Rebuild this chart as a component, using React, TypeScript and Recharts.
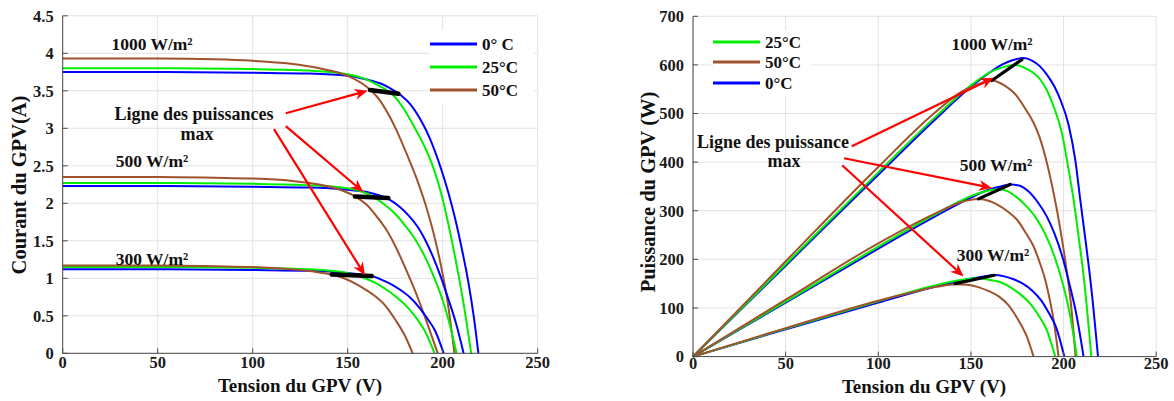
import React from 'react';
import { LineChart, Line, XAxis, YAxis, CartesianGrid, ReferenceLine } from 'recharts';

const BLUE = '#0000ff';
const GREEN = '#00ee00';
const BROWN = '#a0522d';
const AXIS = '#4a4a4a';
const GRID = '#e2e2e2';
const FONT = "'Liberation Serif', 'Times New Roman', serif";

const voltageTicks = [0, 50, 100, 150, 200, 250];
const currentTicks = [0, 0.5, 1, 1.5, 2, 2.5, 3, 3.5, 4, 4.5];
const powerTicks = [0, 100, 200, 300, 400, 500, 600, 700];

type Pt = [number, number];

// I-V curves, [tension V, courant A]
const iv1000_0: Pt[] = [[0, 3.75], [50, 3.75], [100, 3.74], [130, 3.73], [150, 3.7], [160, 3.65], [167, 3.6], [172, 3.54], [178, 3.44], [183, 3.32], [188, 3.13], [193, 2.88], [199, 2.47], [203, 2.14], [206.5, 1.8], [210, 1.4], [213.5, 0.95], [216.3, 0.5], [218.8, 0]];
const iv1000_25: Pt[] = [[0, 3.8], [50, 3.8], [100, 3.79], [130, 3.77], [150, 3.72], [160, 3.65], [167, 3.56], [174, 3.44], [180, 3.24], [185, 3.02], [190, 2.78], [195, 2.48], [199, 2.15], [203, 1.72], [207, 1.22], [211, 0.66], [215, 0]];
const iv1000_50: Pt[] = [[0, 3.93], [50, 3.93], [80, 3.92], [100, 3.9], [120, 3.86], [135, 3.8], [150, 3.7], [158, 3.59], [162, 3.51], [167, 3.37], [172, 3.16], [177, 2.9], [182, 2.6], [187, 2.28], [191, 1.98], [195, 1.62], [199, 1.18], [202.5, 0.7], [206.2, 0]];
const iv500_0: Pt[] = [[0, 2.23], [50, 2.23], [100, 2.22], [130, 2.21], [150, 2.18], [160, 2.15], [166, 2.11], [172, 2.05], [177, 1.96], [182, 1.84], [187, 1.68], [191, 1.5], [195, 1.28], [199, 1.02], [203, 0.72], [207, 0.4], [211, 0]];
const iv500_25: Pt[] = [[0, 2.27], [50, 2.27], [100, 2.26], [130, 2.24], [150, 2.2], [158, 2.15], [164, 2.08], [170, 1.97], [175, 1.86], [180, 1.71], [185, 1.54], [190, 1.32], [195, 1.04], [199, 0.78], [203, 0.45], [207.3, 0]];
const iv500_50: Pt[] = [[0, 2.35], [50, 2.35], [80, 2.34], [100, 2.33], [120, 2.3], [135, 2.25], [146, 2.18], [154, 2.09], [160, 1.98], [166, 1.8], [171, 1.62], [176, 1.38], [181, 1.1], [186, 0.8], [191, 0.46], [197.4, 0]];
const iv300_0: Pt[] = [[0, 1.12], [50, 1.12], [100, 1.11], [130, 1.1], [150, 1.07], [157, 1.05], [162.6, 1.03], [168, 0.98], [173, 0.92], [178, 0.84], [183, 0.74], [188, 0.6], [192, 0.46], [196, 0.3], [200.5, 0]];
const iv300_25: Pt[] = [[0, 1.15], [50, 1.15], [100, 1.14], [130, 1.12], [145, 1.09], [153, 1.05], [160, 0.99], [166, 0.92], [172, 0.82], [177, 0.72], [182, 0.6], [187, 0.44], [191, 0.28], [195.7, 0]];
const iv300_50: Pt[] = [[0, 1.17], [50, 1.17], [80, 1.16], [100, 1.15], [120, 1.12], [132, 1.09], [141.5, 1.05], [148, 1.0], [154, 0.93], [160, 0.84], [165, 0.75], [170, 0.63], [175, 0.45], [180, 0.24], [184.2, 0]];

// P-V curves, [tension V, puissance W]
const pv1000_0: Pt[] = [[0, 0], [50, 187], [100, 374], [130, 485], [150, 555], [160, 584], [167, 601], [172, 609], [178.4, 614], [183, 609], [187, 598], [191, 580], [195, 556], [198.2, 529], [202.7, 477], [206.3, 405], [209, 323], [212, 235], [215, 140], [218.6, 0]];
const pv1000_25: Pt[] = [[0, 0], [50, 190], [100, 379], [130, 490], [150, 558], [160, 584], [167, 595], [173.9, 600], [180, 592], [187.4, 570], [191, 548], [194.6, 515], [199.1, 460], [202.7, 385], [205.4, 323], [208, 250], [211, 160], [215, 0]];
const pv1000_50: Pt[] = [[0, 0], [50, 196], [100, 390], [130, 500], [145, 545], [155, 562], [161.3, 568], [168, 558], [174.8, 536], [179, 512], [183.8, 481], [187, 452], [190.1, 412], [194.6, 337], [198, 268], [201, 195], [204, 108], [206.5, 0]];
const pv500_0: Pt[] = [[0, 0], [50, 111], [100, 222], [130, 287], [150, 327], [160, 344], [166, 350], [171.5, 354], [176, 352], [181, 340], [186, 318], [191, 288], [195, 254], [199, 210], [203, 152], [207, 85], [210.8, 0]];
const pv500_25: Pt[] = [[0, 0], [50, 113], [100, 226], [130, 291], [150, 330], [158, 340], [165, 344], [170, 340], [175, 327], [180, 309], [185, 286], [190, 253], [195, 207], [199, 158], [203, 95], [207.2, 0]];
const pv500_50: Pt[] = [[0, 0], [50, 117], [100, 233], [130, 293], [145, 318], [154, 324], [160, 320], [164, 313], [170, 298], [174.8, 282], [180, 252], [183.8, 227], [187, 195], [190.1, 158], [192.5, 118], [194.6, 76], [197.3, 0]];
const pv300_0: Pt[] = [[0, 0], [50, 56], [100, 111], [130, 143], [150, 160], [157, 165], [163, 168], [168, 165], [173, 159], [178, 150], [183, 136], [188, 115], [192, 90], [196, 60], [200.4, 0]];
const pv300_25: Pt[] = [[0, 0], [50, 57.5], [100, 114], [130, 146], [145, 158], [154, 161], [160, 158], [166, 153], [172, 141], [177, 127], [182, 109], [187, 82], [191, 54], [195.5, 0]];
const pv300_50: Pt[] = [[0, 0], [50, 58.5], [100, 115], [120, 134], [132, 144], [141.5, 149], [148, 148], [154, 143], [160, 134], [165, 124], [170, 107], [175, 79], [180, 43], [183.8, 0]];

// ligne des puissances max (segments noirs)
const mppIV: Pt[][] = [
  [[161.7, 3.51], [176.7, 3.46]],
  [[153.8, 2.09], [171.4, 2.07]],
  [[141.6, 1.05], [162.6, 1.03]],
];
const mppPV: Pt[][] = [
  [[161.3, 568], [177.5, 611]],
  [[154.1, 324.5], [171.2, 354]],
  [[141.5, 150.2], [162.6, 167.3]],
];

// fleches rouges [depart, pointe]
const arrowsIV: Pt[][] = [
  [[117.4, 3.2], [160.5, 3.5]],
  [[117.4, 3.03], [158.2, 2.15]],
  [[111.2, 2.99], [159.1, 1.04]],
];
const arrowsPV: Pt[][] = [
  [[85.7, 432.7], [162.2, 573.5]],
  [[81.5, 408], [161.3, 347]],
  [[80.5, 393.6], [146, 165]],
];

const ivSeries = [
  { id: 'iv1000_0', pts: iv1000_0, color: BLUE }, { id: 'iv1000_25', pts: iv1000_25, color: GREEN }, { id: 'iv1000_50', pts: iv1000_50, color: BROWN },
  { id: 'iv500_0', pts: iv500_0, color: BLUE }, { id: 'iv500_25', pts: iv500_25, color: GREEN }, { id: 'iv500_50', pts: iv500_50, color: BROWN },
  { id: 'iv300_0', pts: iv300_0, color: BLUE }, { id: 'iv300_25', pts: iv300_25, color: GREEN }, { id: 'iv300_50', pts: iv300_50, color: BROWN },
];
const pvSeries = [
  { id: 'pv1000_0', pts: pv1000_0, color: BLUE }, { id: 'pv1000_25', pts: pv1000_25, color: GREEN }, { id: 'pv1000_50', pts: pv1000_50, color: BROWN },
  { id: 'pv500_0', pts: pv500_0, color: BLUE }, { id: 'pv500_25', pts: pv500_25, color: GREEN }, { id: 'pv500_50', pts: pv500_50, color: BROWN },
  { id: 'pv300_0', pts: pv300_0, color: BLUE }, { id: 'pv300_25', pts: pv300_25, color: GREEN }, { id: 'pv300_50', pts: pv300_50, color: BROWN },
];

const toRows = (pts: Pt[]) => pts.map(([v, y]) => ({ v, y }));

const tickStyle = { fontFamily: FONT, fontWeight: 700, fontSize: 16.5, fill: '#1a1a1a' };

function RedArrow(props: any) {
  const { x1, y1, x2, y2 } = props;
  if (![x1, y1, x2, y2].every((n) => Number.isFinite(n))) return null;
  const a = Math.atan2(y2 - y1, x2 - x1);
  const c = Math.cos(a);
  const s = Math.sin(a);
  const len = 13;
  const half = 5.5;
  const back = 9;
  const bx = x2 - len * c;
  const by = y2 - len * s;
  const nx = x2 - back * c;
  const ny = y2 - back * s;
  const pts = [
    [x2, y2],
    [bx - half * s, by + half * c],
    [nx, ny],
    [bx + half * s, by - half * c],
  ].map((p) => p.join(',')).join(' ');
  return (
    <g>
      <line x1={x1} y1={y1} x2={nx} y2={ny} stroke="#ff0000" strokeWidth={2.2} />
      <polygon points={pts} fill="#ff0000" />
    </g>
  );
}

const txt = (x: number, y: number, s: string, size = 17.5, rotate = false) => (
  <div
    key={`${s}-${x}-${y}`}
    style={{
      position: 'absolute', left: x, top: y,
      transform: `translate(-50%, -50%)${rotate ? ' rotate(-90deg)' : ''}`,
      fontFamily: FONT, fontWeight: 700, fontSize: size, color: '#111', whiteSpace: 'nowrap', lineHeight: 1,
    }}
  >
    {s}
  </div>
);

function LegendBox({ x, y, w, h, items }: { x: number; y: number; w: number; h: number; items: { label: string; color: string; y: number }[] }) {
  return (
    <div style={{ position: 'absolute', left: x, top: y, width: w, height: h, background: '#fff' }}>
      {items.map((it) => (
        <div key={it.label} style={{ position: 'absolute', left: 0, top: it.y - y, transform: 'translateY(-50%)', display: 'flex', alignItems: 'center' }}>
          <div style={{ width: 47, height: 2.2, background: it.color }} />
          <span style={{ marginLeft: 5, fontFamily: FONT, fontWeight: 700, fontSize: 17, color: '#111', lineHeight: 1 }}>{it.label}</span>
        </div>
      ))}
    </div>
  );
}

function renderCurves(series: { id: string; pts: Pt[]; color: string }[]) {
  return series.map((s) => (
    <Line key={s.id} data={toRows(s.pts)} dataKey="y" type="monotone" stroke={s.color} strokeWidth={2} dot={false} isAnimationActive={false} />
  ));
}

function renderMpp(segs: Pt[][], width: number, prefix: string) {
  return segs.map((seg, i) => (
    <Line key={`${prefix}${i}`} data={toRows(seg)} dataKey="y" type="linear" stroke="#000" strokeWidth={width} strokeLinecap="round" dot={false} isAnimationActive={false} />
  ));
}

function renderArrows(arrs: Pt[][], prefix: string) {
  return arrs.map((a, i) => (
    <ReferenceLine key={`${prefix}${i}`} segment={[{ x: a[0][0], y: a[0][1] }, { x: a[1][0], y: a[1][1] }]} stroke="#ff0000" shape={RedArrow} ifOverflow="visible" />
  ));
}

export default function App() {
  return (
    <div style={{ position: 'fixed', left: 0, top: 0, width: 1174, height: 401, background: '#fff', overflow: 'hidden' }}>
      <div style={{ position: 'absolute', left: 0, top: 0 }}>
        <LineChart width={560} height={401} margin={{ top: 15.8, right: 22.3, bottom: 17.7, left: 12.7 }}>
          <CartesianGrid stroke={GRID} />
          <XAxis dataKey="v" type="number" domain={[0, 250]} ticks={voltageTicks} interval={0} tick={tickStyle} tickSize={-5} tickMargin={8} stroke={AXIS} height={30} />
          <XAxis xAxisId="top" orientation="top" type="number" domain={[0, 250]} ticks={voltageTicks} interval={0} tick={false} tickSize={-5} height={0} stroke={AXIS} />
          <YAxis type="number" domain={[0, 4.5]} ticks={currentTicks} interval={0} tick={tickStyle} tickSize={-5} tickMargin={14} width={50} stroke={AXIS} />
          <YAxis yAxisId="right" orientation="right" type="number" domain={[0, 4.5]} ticks={currentTicks} interval={0} tick={false} tickSize={-5} width={0} stroke={AXIS} />
          {renderCurves(ivSeries)}
          {renderMpp(mppIV, 4.5, 'mi')}
          {renderArrows(arrowsIV, 'ai')}
        </LineChart>
      </div>
      <div style={{ position: 'absolute', left: 600, top: 0 }}>
        <LineChart width={574} height={401} margin={{ top: 16.3, right: 17.8, bottom: 14.4, left: 43 }}>
          <CartesianGrid stroke={GRID} />
          <XAxis dataKey="v" type="number" domain={[0, 250]} ticks={voltageTicks} interval={0} tick={tickStyle} tickSize={-5} tickMargin={6} stroke={AXIS} height={30} />
          <XAxis xAxisId="top" orientation="top" type="number" domain={[0, 250]} ticks={voltageTicks} interval={0} tick={false} tickSize={-5} height={0} stroke={AXIS} />
          <YAxis type="number" domain={[0, 700]} ticks={powerTicks} interval={0} tick={tickStyle} tickSize={-5} tickMargin={14} width={50} stroke={AXIS} />
          <YAxis yAxisId="right" orientation="right" type="number" domain={[0, 700]} ticks={powerTicks} interval={0} tick={false} tickSize={-5} width={0} stroke={AXIS} />
          {renderCurves(pvSeries)}
          {renderMpp(mppPV, 3.2, 'mp')}
          {renderArrows(arrowsPV, 'ap')}
        </LineChart>
      </div>

      <LegendBox x={430} y={30} w={104} h={74} items={[{ label: '0° C', color: BLUE, y: 44 }, { label: '25°C', color: GREEN, y: 67 }, { label: '50°C', color: BROWN, y: 90 }]} />
      <LegendBox x={713} y={30} w={98} h={66} items={[{ label: '25°C', color: GREEN, y: 42 }, { label: '50°C', color: BROWN, y: 62 }, { label: '0°C', color: BLUE, y: 83 }]} />

      {txt(152, 45, '1000 W/m²')}
      {txt(152, 162, '500 W/m²')}
      {txt(152, 260, '300 W/m²')}
      {txt(194, 114, 'Ligne des puissances', 18)}
      {txt(197, 134, 'max', 18)}
      {txt(300, 385, 'Tension du GPV (V)', 19)}
      {txt(19, 185, 'Courant du GPV(A)', 20.5, true)}

      {txt(992, 45, '1000 W/m²')}
      {txt(996, 166, '500 W/m²')}
      {txt(993, 256, '300 W/m²')}
      {txt(773, 142, 'Ligne des puissance', 18)}
      {txt(784, 161, 'max', 18)}
      {txt(924, 386, 'Tension du GPV (V)', 19)}
      {txt(648, 192, 'Puissance du GPV (W)', 20.5, true)}
    </div>
  );
}
